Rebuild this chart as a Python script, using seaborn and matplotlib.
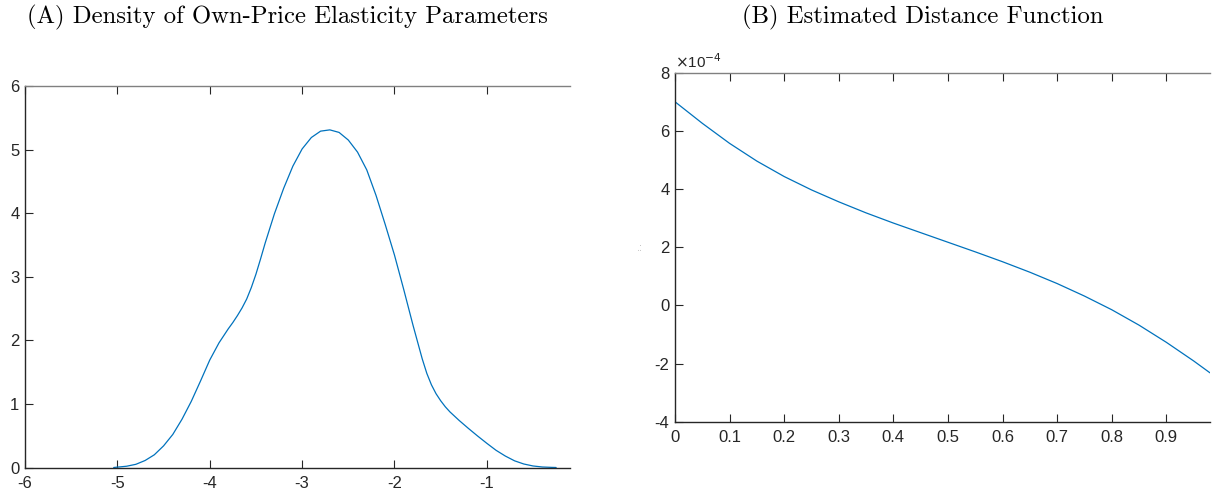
import numpy as np
import pandas as pd
import matplotlib
matplotlib.use("Agg")
import matplotlib.pyplot as plt
import seaborn as sns

# ---- data ----
elast_x = [-5.04, -4.9, -4.8, -4.7, -4.6, -4.5, -4.4, -4.3, -4.2, -4.1, -4.0, -3.9, -3.8,
           -3.75, -3.7, -3.65, -3.6, -3.55, -3.5, -3.45, -3.4, -3.3, -3.2, -3.1, -3.0, -2.9,
           -2.8, -2.7, -2.6, -2.5, -2.4, -2.3, -2.2, -2.1, -2.0, -1.9, -1.8, -1.7, -1.65,
           -1.6, -1.55, -1.5, -1.45, -1.4, -1.3, -1.2, -1.1, -1.0, -0.9, -0.8, -0.7, -0.6,
           -0.5, -0.4, -0.3, -0.25]
elast_density = [0.0, 0.02, 0.05, 0.11, 0.20, 0.34, 0.52, 0.76, 1.04, 1.36, 1.69, 1.96, 2.18,
                 2.28, 2.39, 2.51, 2.65, 2.83, 3.04, 3.28, 3.53, 3.99, 4.39, 4.74, 5.01, 5.19,
                 5.29, 5.31, 5.27, 5.15, 4.96, 4.68, 4.28, 3.82, 3.34, 2.80, 2.24, 1.71, 1.48,
                 1.30, 1.16, 1.05, 0.955, 0.875, 0.74, 0.615, 0.495, 0.38, 0.27, 0.18, 0.105, 0.055,
                 0.024, 0.008, 0.002, 0.0]

dist_x = [0.0, 0.05, 0.1, 0.15, 0.2, 0.25, 0.3, 0.35, 0.4, 0.45, 0.5, 0.55, 0.6, 0.65,
          0.7, 0.75, 0.8, 0.85, 0.9, 0.95, 0.98]
dist_e4 = [7.0, 6.26, 5.57, 4.96, 4.43, 3.97, 3.56, 3.18, 2.83, 2.50, 2.17, 1.84, 1.50, 1.14,
           0.75, 0.32, -0.15, -0.68, -1.27, -1.91, -2.32]

left_xticks = [-6, -5, -4, -3, -2, -1]
left_yticks = [0, 1, 2, 3, 4, 5, 6]
right_xticks = [0, 0.1, 0.2, 0.3, 0.4, 0.5, 0.6, 0.7, 0.8, 0.9]
right_yticks = [-4, -2, 0, 2, 4, 6, 8]

title_a = "(A) Density of Own-Price Elasticity Parameters"
title_b = "(B) Estimated Distance Function"

# ---- style ----
sns.set_theme(style="white")
plt.rcParams["font.family"] = ["Liberation Sans", "DejaVu Sans"]
plt.rcParams["axes.unicode_minus"] = False

W, H = 1214, 500
fig = plt.figure(figsize=(W / 100, H / 100), dpi=100)

line_col = "#0072BD"
axis_col = "#262626"
border_col = "#808080"


def px_axes(x0, y0, x1, y1):
    return fig.add_axes([x0 / W, 1 - y1 / H, (x1 - x0) / W, (y1 - y0) / H])


def style_axes(ax):
    for s in ["top", "bottom", "left", "right"]:
        ax.spines[s].set_linewidth(1.0)
    ax.spines["right"].set_visible(False)
    ax.spines["top"].set_color(border_col)
    ax.spines["left"].set_color(axis_col)
    ax.spines["bottom"].set_color(axis_col)
    ax.tick_params(axis="x", direction="in", length=6, width=0.8, color=axis_col,
                   top=True, bottom=True, labelsize=12, labelcolor=axis_col, pad=6)
    ax.tick_params(axis="y", direction="in", length=6, width=0.8, color=axis_col,
                   left=True, right=False, labelsize=12, labelcolor=axis_col, pad=4)
    ax.set_xlabel("")
    ax.set_ylabel("")


# Left panel
ax1 = px_axes(25, 86, 570, 467.5)
df1 = pd.DataFrame({"x": elast_x, "y": elast_density})
sns.lineplot(data=df1, x="x", y="y", ax=ax1, color=line_col, linewidth=0.9)
ax1.set_xlim(-6, -0.1)
ax1.set_ylim(0, 6)
ax1.set_xticks(left_xticks)
ax1.set_xticklabels([str(v) for v in left_xticks])
ax1.set_yticks(left_yticks)
ax1.set_yticklabels([str(v) for v in left_yticks])
style_axes(ax1)

# Right panel
ax2 = px_axes(675, 72.7, 1210, 421.7)
df2 = pd.DataFrame({"x": dist_x, "y": dist_e4})
sns.lineplot(data=df2, x="x", y="y", ax=ax2, color=line_col, linewidth=0.9)
ax2.set_xlim(0, 0.98)
ax2.set_ylim(-4, 8)
ax2.set_xticks(right_xticks)
ax2.set_xticklabels(["0"] + [f"{v:.1f}" for v in right_xticks[1:]])
ax2.set_yticks(right_yticks)
ax2.set_yticklabels([str(v) for v in right_yticks])
style_axes(ax2)
ax2.text(0.0, 1.005, r"$\times$10$^{-4}$", transform=ax2.transAxes, ha="left", va="bottom",
         fontsize=11, color=axis_col)
ax2.set_ylabel(":  .", fontsize=4, color="#444444", labelpad=8)

# Titles (serif, Computer Modern like)
fig.text(287 / W, 1 - 17 / H, title_a, ha="center", va="center",
         family=["cmr10", "DejaVu Serif"], fontsize=17.8, color="black")
fig.text(923 / W, 1 - 17 / H, title_b, ha="center", va="center",
         family=["cmr10", "DejaVu Serif"], fontsize=17.8, color="black")

fig.savefig("out.png", dpi=100)
